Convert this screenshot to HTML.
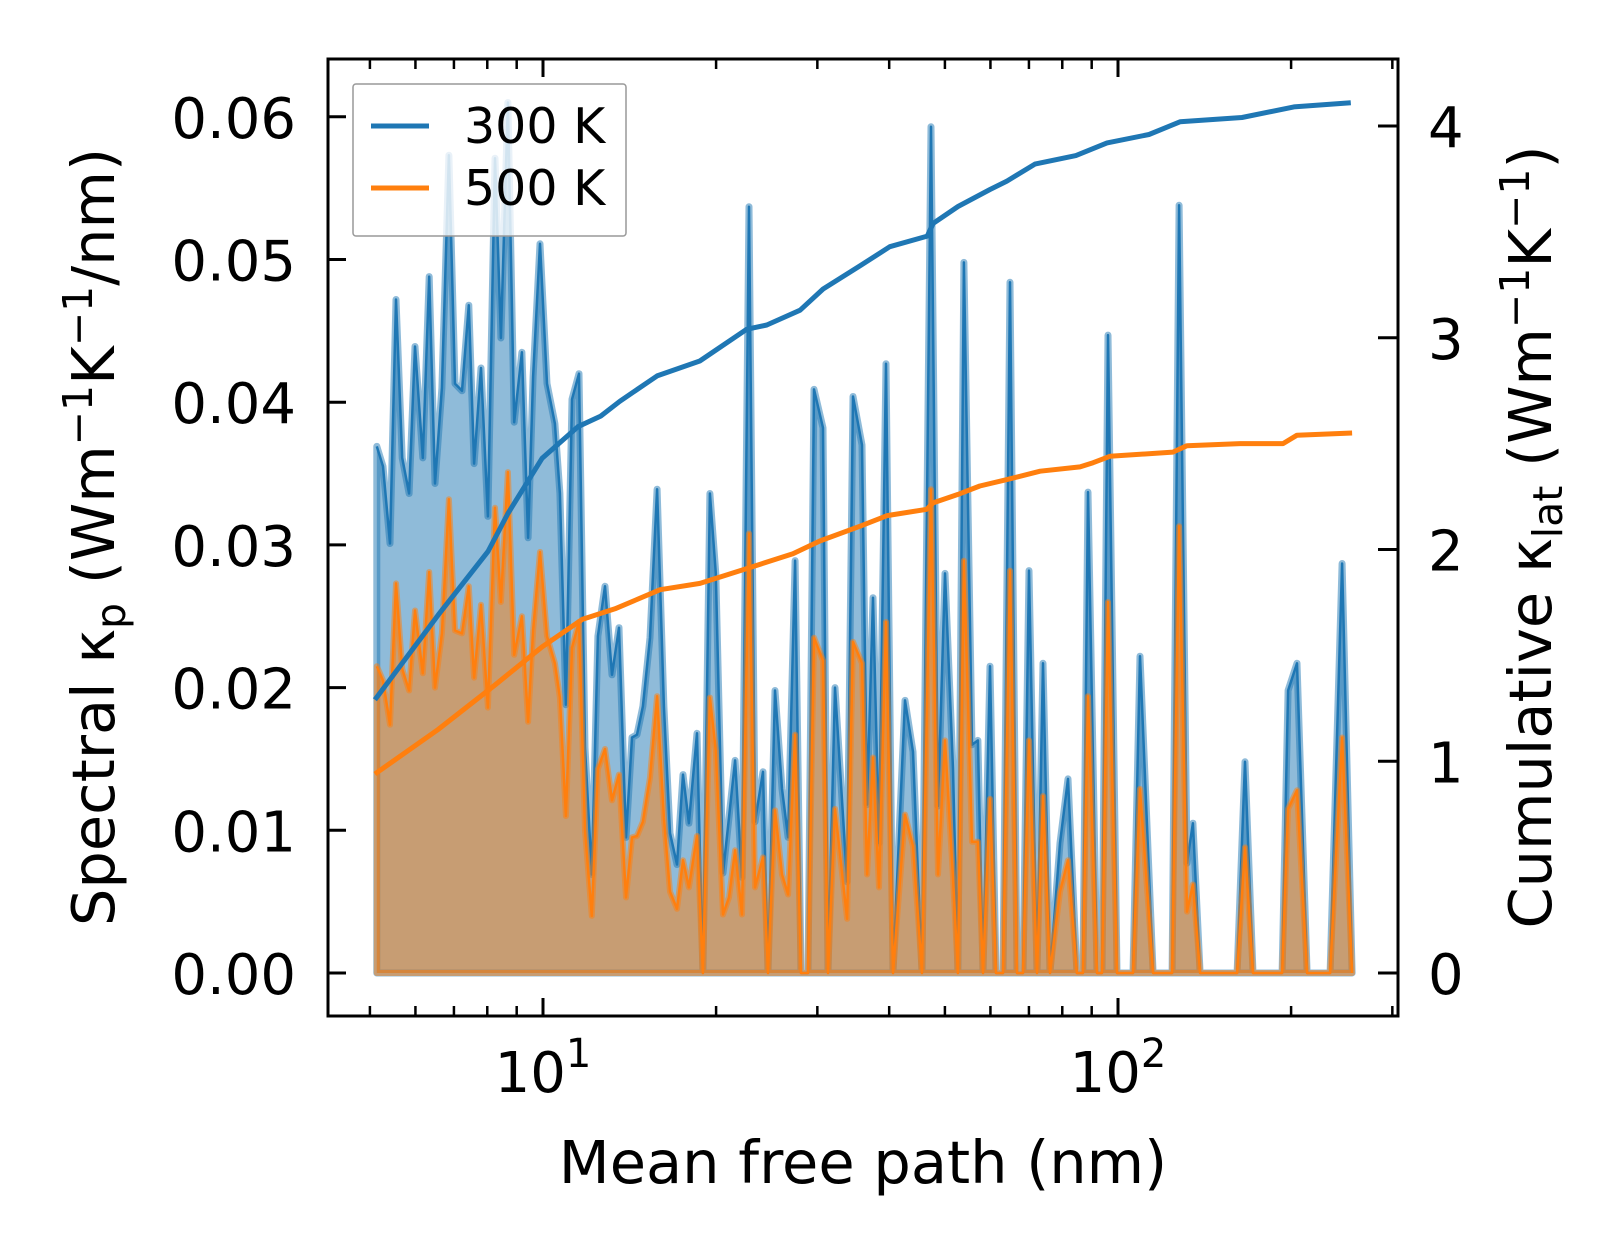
<!DOCTYPE html>
<html>
<head>
<meta charset="utf-8">
<style>
html,body{margin:0;padding:0;background:#fff;}
svg{display:block;font-family:"DejaVu Sans","Liberation Sans",sans-serif;}
</style>
</head>
<body>
<svg id="chart" width="1623" height="1254" viewBox="0 0 1623 1254" xmlns="http://www.w3.org/2000/svg">
  <rect x="0" y="0" width="1623" height="1254" fill="#fff"/>
  <g id="marks"></g>
  <g id="axes"></g>
  <rect x="328" y="59" width="1070" height="957" fill="none" stroke="#000" stroke-width="3"/>
  <g>
    <rect x="353" y="84" width="273" height="152" fill="#fff" fill-opacity="0.8" stroke="#999" stroke-width="1.5" rx="3"/>
    <line x1="371" y1="126" x2="429" y2="126" stroke="#1f77b4" stroke-width="5"/>
    <text x="464" y="143" font-size="49" fill="#000">300 K</text>
    <line x1="371" y1="188" x2="429" y2="188" stroke="#ff7f0e" stroke-width="5"/>
    <text x="464" y="205" font-size="49" fill="#000">500 K</text>
  </g>
  <text x="863" y="1183" font-size="59" text-anchor="middle">Mean free path (nm)</text>
  <text transform="translate(114,537) rotate(-90)" font-size="59" text-anchor="middle">Spectral κ<tspan font-size="41" dy="11">p</tspan><tspan dy="-11"> (Wm</tspan><tspan font-size="41" dy="-22">−1</tspan><tspan dy="22">K</tspan><tspan font-size="41" dy="-22">−1</tspan><tspan dy="22">/nm)</tspan></text>
  <text transform="translate(1551,537) rotate(-90)" font-size="59" text-anchor="middle">Cumulative κ<tspan font-size="41" dy="11">lat</tspan><tspan dy="-11"> (Wm</tspan><tspan font-size="41" dy="-22">−1</tspan><tspan dy="22">K</tspan><tspan font-size="41" dy="-22">−1</tspan><tspan dy="22">)</tspan></text>
</svg>
<script>
// ---- data ----
const mfp = [5.14,5.27,5.42,5.55,5.69,5.85,5.99,6.18,6.34,6.49,6.67,6.86,7.03,7.23,7.43,7.59,7.80,8.02,8.25,8.45,8.69,8.91,9.19,9.42,9.61,9.88,10.16,10.49,10.70,10.96,11.23,11.55,11.83,12.16,12.46,12.82,13.18,13.56,13.94,14.28,14.57,14.92,15.35,15.79,16.23,16.63,17.10,17.52,17.94,18.53,18.97,19.51,19.98,20.56,21.06,21.58,22.19,22.82,23.37,24.13,24.62,25.32,26.04,26.68,27.44,28.10,28.90,29.60,30.69,31.31,32.20,33.79,34.61,35.88,36.61,37.49,38.40,39.50,40.61,42.62,44.01,45.62,47.29,48.64,50.02,51.64,52.68,53.96,55.72,57.07,58.23,59.89,61.35,63.10,64.90,66.74,68.37,70.03,72.31,74.07,76.17,79.27,81.85,84.84,86.9,88.67,91.93,93.8,96.07,99.61,106.2,109.2,115.1,124.2,127.7,131.8,135.0,138.9,161.1,166.3,171.7,192.9,197.6,204.8,213.2,233.8,245.3,255.3];
const spec300 = [.0369,.0355,.0301,.0472,.0361,.0336,.0439,.0361,.0488,.0343,.0410,.0573,.0413,.0408,.0468,.0357,.0424,.0320,.0571,.0445,.0610,.0386,.0435,.0305,.0418,.0511,.0413,.0385,.0336,.0188,.0402,.0420,.0158,.0069,.0236,.0271,.0209,.0242,.0095,.0165,.0167,.0187,.0235,.0339,.0187,.0098,.0076,.0139,.0105,.0168,0,.0336,.0280,.0070,.0109,.0149,.0067,.0537,.0106,.0141,0,.0198,.0129,.0095,.0289,0,0,.0409,.0382,0,.0200,.0064,.0404,.0370,.0118,.0263,.0091,.0427,0,.0191,.0155,0,.0593,.0117,.0280,.0143,0,.0498,.0160,.0163,0,.0215,0,0,.0484,0,0,.0282,0,.0217,0,.0091,.0136,0,0,.0337,0,0,.0447,0,0,.0222,0,0,.0538,.0077,.0105,0,0,.0148,0,0,.0198,.0217,0,0,.0287,0];
const spec500 = [.0215,.0205,.0174,.0273,.0213,.0198,.0254,.0210,.0281,.0200,.0238,.0332,.0240,.0238,.0271,.0207,.0258,.0186,.0326,.0260,.0351,.0223,.0250,.0176,.0240,.0295,.0236,.0217,.0193,.0110,.0228,.0246,.0100,.0040,.0143,.0157,.0121,.0139,.0053,.0095,.0096,.0106,.0137,.0194,.0109,.0057,.0045,.0079,.0060,.0096,0,.0193,.0156,.0041,.0053,.0086,.0041,.0308,.0060,.0081,0,.0114,.0069,.0055,.0167,0,0,.0235,.0219,0,.0115,.0038,.0232,.0217,.0069,.0151,.0060,.0246,0,.0111,.0089,0,.0339,.0069,.0163,.0067,0,.0289,.0092,.0092,0,.0122,0,0,.0282,0,0,.0163,0,.0124,0,.0057,.0079,0,0,.0194,0,0,.0260,0,0,.0129,0,0,.0313,.0043,.0062,0,0,.0088,0,0,.0115,.0128,0,0,.0165,0];
const cumMfp300 = [5.10,6.57,8.02,8.69,9.96,11.5,12.6,13.6,15.79,18.74,22.6,24.5,28.0,30.7,35.6,40.1,46.6,47.7,52.7,59.9,64.1,71.7,84.5,95.7,113.2,128.2,164.3,202.3,254];
const cum300 = [1.29,1.69,1.99,2.17,2.43,2.58,2.63,2.70,2.82,2.89,3.04,3.06,3.13,3.23,3.34,3.43,3.48,3.54,3.62,3.70,3.74,3.82,3.86,3.92,3.96,4.02,4.04,4.09,4.11];
const cumMfp500 = [5.10,6.57,8.25,9.96,11.7,13.34,15.98,18.75,22.6,27.2,30.3,35.6,39.7,46.5,47.7,52.7,57.5,64.1,73.2,85.9,90.5,96.8,124.6,131.8,163,193.6,204.8,255.3];
const cum500 = [0.94,1.15,1.36,1.54,1.67,1.72,1.81,1.84,1.91,1.98,2.04,2.11,2.16,2.19,2.22,2.26,2.30,2.33,2.37,2.39,2.41,2.44,2.46,2.49,2.50,2.50,2.54,2.55];
const leftTicks = [0,0.01,0.02,0.03,0.04,0.05,0.06];
const leftTickLabels = ["0.00","0.01","0.02","0.03","0.04","0.05","0.06"];
const rightTicks = [0,1,2,3,4];
const xMajor = [10,100];
const xMajorExp = ["1","2"];
const xMinor = [5,6,7,8,9,20,30,40,50,60,70,80,90,200,300];

// ---- scales ----
const X0=543, DEC=575, Y0=973, PXL=14270, PXR=211.75;
function xs(m){return X0+DEC*(Math.log10(m)-1);}
function yl(v){return Y0-v*PXL;}
function yr(v){return Y0-v*PXR;}
const NS="http://www.w3.org/2000/svg";
function mk(tag,attrs,parent){const e=document.createElementNS(NS,tag);for(const k in attrs)e.setAttribute(k,attrs[k]);parent.appendChild(e);return e;}
const marks=document.getElementById('marks');
const axes=document.getElementById('axes');

function linePts(xsArr,ysArr,yf){return xsArr.map((m,i)=>xs(m).toFixed(1)+','+yf(ysArr[i]).toFixed(1)).join(' ');}
function areaPts(xsArr,ysArr){return xs(xsArr[0]).toFixed(1)+','+yl(0)+' '+linePts(xsArr,ysArr,yl)+' '+xs(xsArr[xsArr.length-1]).toFixed(1)+','+yl(0);}

const a3=mk('polygon',{points:areaPts(mfp,spec300),fill:'#1f77b4','fill-opacity':0.5,stroke:'#1f77b4','stroke-opacity':0.5,'stroke-width':7,'stroke-linejoin':'round'},marks);


const l3=mk('polyline',{points:linePts(mfp,spec300,yl),fill:'none',stroke:'#1f77b4','stroke-width':2.5,'stroke-linejoin':'round'},marks);


const a5=mk('polygon',{points:areaPts(mfp,spec500),fill:'#ff7f0e','fill-opacity':0.5,stroke:'#ff7f0e','stroke-opacity':0.5,'stroke-width':6,'stroke-linejoin':'round'},marks);


const l5=mk('polyline',{points:linePts(mfp,spec500,yl),fill:'none',stroke:'#ff7f0e','stroke-width':2.5,'stroke-linejoin':'round'},marks);


const c3=mk('polyline',{points:linePts(cumMfp300,cum300,yr),fill:'none',stroke:'#1f77b4','stroke-width':5,'stroke-linejoin':'round'},marks);


const c5=mk('polyline',{points:linePts(cumMfp500,cum500,yr),fill:'none',stroke:'#ff7f0e','stroke-width':5,'stroke-linejoin':'round'},marks);



// ---- axes ----
leftTicks.forEach((v,i)=>{
  const y=yl(v);
  const t=mk('line',{x1:328,y1:y,x2:346,y2:y,stroke:'#000','stroke-width':3},axes);
  
  
  const tx=mk('text',{x:296,y:y+21,'font-size':56,'text-anchor':'end'},axes);
  tx.textContent=leftTickLabels[i];
  
  
});
rightTicks.forEach(v=>{
  const y=yr(v);
  const t=mk('line',{x1:1378,y1:y,x2:1398,y2:y,stroke:'#000','stroke-width':3},axes);
  
  
  const tx=mk('text',{x:1428,y:y+21,'font-size':56},axes);
  tx.textContent=String(v);
  
  
});
xMajor.forEach((m,i)=>{
  const x=xs(m);
  const t=mk('line',{x1:x,y1:1016,x2:x,y2:998,stroke:'#000','stroke-width':3},axes);
  
  
  const tt=mk('line',{x1:x,y1:59,x2:x,y2:77,stroke:'#000','stroke-width':3},axes);
  
  
  const tx=mk('text',{x:x,y:1092,'font-size':56,'text-anchor':'middle'},axes);
  
  
  tx.appendChild(document.createTextNode('10'));
  const sp=mk('tspan',{'font-size':40,dy:-25},tx);
  sp.textContent=xMajorExp[i];
});
xMinor.forEach(m=>{
  const x=xs(m);
  if(x>1396)return;
  const t=mk('line',{x1:x,y1:1016,x2:x,y2:1006,stroke:'#000','stroke-width':2.5},axes);
  
  
  const tt=mk('line',{x1:x,y1:59,x2:x,y2:69,stroke:'#000','stroke-width':2.5},axes);
  
  
});
</script>
</body>
</html>
